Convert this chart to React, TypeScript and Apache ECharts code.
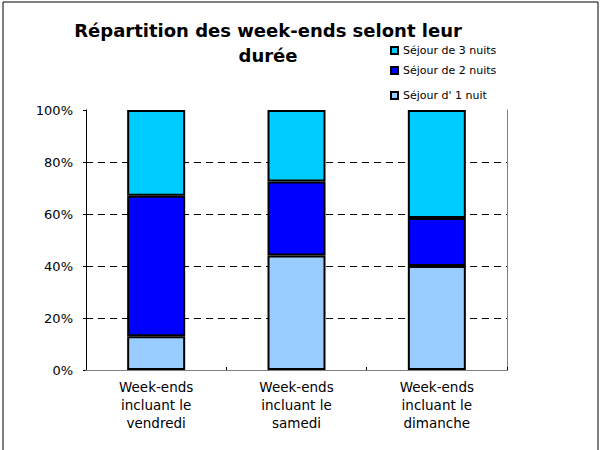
import React, { useEffect, useRef } from "react";
import * as echarts from "echarts";

const categories = [
  "Week-ends\nincluant le\nvendredi",
  "Week-ends\nincluant le\nsamedi",
  "Week-ends\nincluant le\ndimanche",
];
const seriesNames = ["Séjour d' 1 nuit", "Séjour de 2 nuits", "Séjour de 3 nuits"];
const oneNight = [13, 44, 40];
const twoNights = [54, 28.5, 18.5];
const threeNights = [33, 27.5, 41.5];
const seriesColors = ["#99CCFF", "#0000FF", "#00CCFF"];
const titleText = "Répartition des week-ends selont leur\ndurée";

const FONT = "DejaVu Sans";

export default function App() {
  const ref = useRef<HTMLDivElement>(null);
  useEffect(() => {
    document.body.style.margin = "0";
    const chart = echarts.init(ref.current!, null, { renderer: "svg" });
    const values = [oneNight, twoNights, threeNights];
    const legendTops = [90, 65, 45];
    chart.setOption({
      animation: false,
      backgroundColor: "#ffffff",
      title: {
        text: titleText,
        left: 263,
        top: 13,
        textAlign: "center",
        textStyle: {
          fontFamily: FONT,
          fontWeight: "bold",
          fontSize: 18,
          lineHeight: 25,
          color: "#000",
        },
      },
      legend: [2, 1, 0].map((i) => ({
        data: [seriesNames[i]],
        left: 390,
        top: legendTops[i],
        padding: 0,
        itemWidth: 7,
        itemHeight: 7,
        icon: "rect",
        textStyle: { fontFamily: FONT, fontSize: 11, color: "#000" },
      })),
      grid: { left: 86, right: 96, top: 110, bottom: 80, containLabel: false },
      xAxis: [
        {
          type: "category",
          data: categories,
          z: 5,
          axisLine: { lineStyle: { color: "#000", width: 1 } },
          axisTick: { show: true, inside: true, length: 3, lineStyle: { color: "#000" } },
          axisLabel: {
            fontFamily: FONT,
            fontSize: 13.5,
            lineHeight: 18,
            color: "#000",
            margin: 8,
            interval: 0,
          },
        },
        {
          type: "category",
          data: categories,
          position: "top",
          z: 5,
          axisLine: { show: true, lineStyle: { color: "#808080", width: 1 } },
          axisTick: { show: false },
          axisLabel: { show: false },
        },
      ],
      yAxis: [
        {
          type: "value",
          min: 0,
          max: 100,
          interval: 20,
          axisLine: { show: true, lineStyle: { color: "#000", width: 1 } },
          axisTick: { show: true, length: 3, lineStyle: { color: "#000" } },
          axisLabel: {
            formatter: "{value}%",
            fontFamily: FONT,
            fontSize: 13,
            color: "#000",
            margin: 13,
          },
          splitLine: {
            show: true,
            showMinLine: false,
            showMaxLine: false,
            lineStyle: { color: "#000", type: [7, 5], width: 1 },
          },
        },
        {
          type: "value",
          min: 0,
          max: 100,
          interval: 20,
          position: "right",
          z: 5,
          axisLine: { show: true, lineStyle: { color: "#808080", width: 1 } },
          axisTick: { show: false },
          axisLabel: { show: false },
          splitLine: { show: false },
        },
      ],
      series: values.map((v, i) => ({
        name: seriesNames[i],
        type: "bar",
        stack: "total",
        data: v,
        barWidth: 58,
        z: 8,
        itemStyle: { color: seriesColors[i], borderColor: "#000", borderWidth: 2 },
      })),
      graphic: [
        {
          type: "rect",
          shape: { x: 3, y: 2, width: 595, height: 470 },
          style: { fill: "none", stroke: "#000", lineWidth: 1 },
          silent: true,
          z: 100,
        },
      ],
    });
    return () => chart.dispose();
  }, []);
  return <div ref={ref} style={{ width: 603, height: 450 }} />;
}
